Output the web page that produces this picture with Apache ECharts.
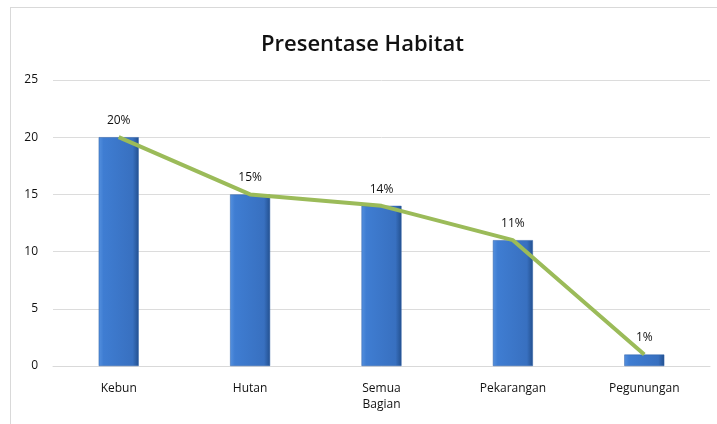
<!DOCTYPE html>
<html>
<head>
<meta charset="utf-8">
<script src="https://cdn.jsdelivr.net/npm/echarts@6/dist/echarts.min.js"></script>
<style>
  body { margin: 0; background: #fff; }
  #frame {
    position: absolute;
    left: 10px;
    top: 7px;
    width: 720px;
    height: 430px;
    border: 1px solid #d9d9d9;
  }
  #myChart {
    position: absolute;
    left: 0;
    top: 0;
    width: 717px;
    height: 424px;
  }
</style>
</head>
<body>
<div id="frame"></div>
<div id="myChart"></div>
<script>
var categories = ['Kebun', 'Hutan', 'Semua\nBagian', 'Pekarangan', 'Pegunungan'];
var values = [20, 15, 14, 11, 1];
var yTicks = { min: 0, max: 25, interval: 5 };

var chartDom = document.getElementById('myChart');
var myChart = echarts.init(chartDom);
var option;

option = {
  animation: false,
  title: {
    text: 'Presentase Habitat',
    left: 256,
    top: 29,
    textStyle: {
      fontFamily: 'Open Sans',
      fontSize: 22,
      fontWeight: 600,
      color: '#111'
    }
  },
  grid: {
    left: 53,
    right: 7,
    top: 80,
    bottom: 58
  },
  xAxis: {
    type: 'category',
    data: categories,
    axisLine: { lineStyle: { color: '#d9d9d9' } },
    axisTick: { show: false },
    axisLabel: {
      color: '#111',
      fontFamily: 'Open Sans',
      fontSize: 12,
      margin: 15,
      lineHeight: 16
    }
  },
  yAxis: {
    type: 'value',
    min: yTicks.min,
    max: yTicks.max,
    interval: yTicks.interval,
    axisLine: { show: false },
    axisTick: { show: false },
    splitLine: { lineStyle: { color: '#dcdcdc' } },
    axisLabel: {
      color: '#111',
      fontFamily: 'Open Sans',
      fontSize: 12,
      margin: 15
    }
  },
  series: [
    {
      type: 'bar',
      data: values,
      barWidth: 40,
      itemStyle: {
        color: new echarts.graphic.LinearGradient(0, 0, 1, 0, [
          { offset: 0, color: '#5490de' },
          { offset: 0.12, color: '#3f7dd2' },
          { offset: 0.85, color: '#3870c0' },
          { offset: 1, color: '#23508f' }
        ]),
        borderColor: '#2d5fa6',
        borderWidth: 0.5
      }
    },
    {
      type: 'line',
      data: values,
      symbol: 'circle',
      symbolSize: 1,
      showSymbol: true,
      itemStyle: { color: 'rgba(0,0,0,0)' },
      z: 5,
      lineStyle: { color: '#9bbb59', width: 4 },
      label: {
        show: true,
        position: 'top',
        distance: 10,
        formatter: '{c}%',
        color: '#111',
        fontFamily: 'Open Sans',
        fontSize: 12
      }
    }
  ]
};
option && myChart.setOption(option);
</script>
</body>
</html>
